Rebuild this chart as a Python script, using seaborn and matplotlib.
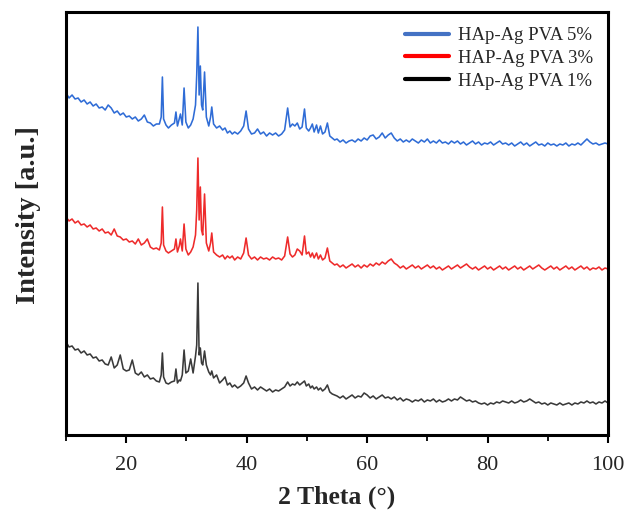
import numpy as np
import pandas as pd
import matplotlib
matplotlib.use("Agg")
import matplotlib.pyplot as plt
import seaborn as sns
from matplotlib.ticker import MultipleLocator


# ----------------------------
# Data (2 theta in degrees, intensity in a.u.)
# ----------------------------

theta_low = np.arange(10.0, 25.5, 0.5)

theta_mid = [
    25.5, 25.8, 26.0, 26.2, 26.6, 27.0, 27.5, 28.0, 28.25, 28.5,
    28.8, 29.0, 29.3, 29.6, 29.9, 30.3, 30.7, 31.1, 31.5, 31.7,
    31.9, 32.1, 32.3, 32.5, 32.7, 33.0, 33.3, 33.7, 34.0, 34.2,
    34.5, 35.0, 35.5, 36.0, 36.4, 36.8, 37.2, 37.6, 38.0, 38.5,
    39.0, 39.5, 39.9, 40.3, 40.8, 41.3, 41.8, 42.3, 42.8, 43.3,
    43.8, 44.3, 44.8, 45.3, 45.8, 46.3, 46.8, 47.2, 47.6, 48.0,
    48.4, 48.8, 49.2, 49.6, 49.9, 50.3, 50.6, 50.9, 51.2, 51.6,
    51.9, 52.25, 52.6, 53.0, 53.4, 53.8, 54.2, 54.6,
]

theta_high = np.arange(55.0, 100.5, 0.5)

# HAp-Ag PVA 5%
pva5_low = [
    342, 337, 340, 336, 337, 333, 335, 331, 333, 329,
    331, 327, 328, 325, 330, 327, 322, 324, 320, 322,
    318, 319, 316, 318, 314, 316, 320, 313, 312, 309,
    311,
]
pva5_mid = [
    311, 318, 358, 316, 310, 307, 310, 312, 323, 309,
    316, 321, 310, 347, 313, 307, 310, 316, 330, 360,
    408, 340, 369, 330, 325, 363, 318, 309, 318, 328,
    311, 307, 309, 305, 307, 302, 304, 301, 303, 301,
    304, 309, 324, 306, 301, 302, 306, 301, 303, 299,
    302, 300, 302, 299, 301, 305, 327, 308, 311, 309,
    312, 306, 308, 326, 307, 304, 307, 311, 303, 310,
    302, 309, 301, 303, 312, 299, 297, 295,
]
pva5_high = [
    296, 293, 295, 292, 294, 295, 293, 296, 294, 297,
    295, 299, 300, 296, 298, 302, 297, 300, 302, 297,
    294, 296, 293, 295, 293, 296, 294, 292, 295, 293,
    296, 292, 294, 292, 295, 292, 293, 291, 294, 292,
    294, 291, 293, 290, 292, 294, 291, 293, 290, 292,
    291, 293, 290, 292, 294, 291, 292, 290, 292, 289,
    291, 293, 290, 292, 289, 291, 293, 290, 291, 289,
    292, 290, 291, 289, 291, 290, 292, 289, 291, 290,
    292, 290, 293, 296, 293, 291, 292, 290, 291, 292,
    291,
]

# HAP-Ag PVA 3%
pva3_low = [
    218, 214, 216, 212, 214, 210, 211, 208, 210, 206,
    207, 204, 206, 202, 203, 200, 206, 199, 198, 195,
    196, 193, 194, 191, 196, 190, 192, 196, 188, 186,
    187,
]
pva3_mid = [
    185, 192, 228, 190, 184, 182, 184, 186, 196, 183,
    189, 196, 184, 211, 186, 180, 183, 188, 200, 225,
    277, 215, 248, 205, 200, 241, 192, 184, 192, 202,
    183, 180, 178, 180, 176, 179, 177, 179, 175, 178,
    176, 182, 197, 180, 176, 178, 175, 178, 176, 177,
    175, 178, 176, 177, 175, 179, 198, 181, 178, 180,
    186, 184, 180, 199, 181, 183, 178, 182, 177, 182,
    176, 180, 175, 177, 187, 174, 172, 170,
]
pva3_high = [
    171, 168, 170, 167, 169, 171, 168, 170, 167, 170,
    168, 171, 169, 172, 170, 173, 171, 174, 176, 172,
    170, 167, 169, 166, 168, 170, 167, 169, 166, 168,
    170, 167, 169, 166, 168, 165, 167, 169, 166, 168,
    170, 167, 169, 171, 168, 166, 168, 165, 167, 169,
    166, 168, 165, 167, 169, 166, 168, 165, 167, 169,
    166, 168, 165, 167, 169, 166, 168, 170, 167, 165,
    167, 169, 166, 168, 165, 167, 169, 166, 168, 165,
    167, 169, 166, 168, 165, 167, 166, 168, 165, 167,
    166,
]

# HAp-Ag PVA 1%
pva1_low = [
    93, 88, 89, 85, 86, 82, 84, 80, 81, 77,
    78, 74, 75, 71, 70, 78, 67, 70, 80, 66,
    64, 65, 75, 62, 60, 63, 58, 60, 56, 57,
    54,
]
pva1_mid = [
    53, 60, 82, 58, 52, 51, 53, 54, 66, 52,
    55, 54, 60, 85, 62, 64, 76, 62, 79, 90,
    152, 80, 87, 72, 70, 84, 70, 63, 60, 64,
    57, 60, 52, 55, 58, 50, 52, 48, 50, 47,
    49, 52, 59, 52, 46, 48, 45, 48, 46, 44,
    46, 43, 45, 44, 46, 48, 53, 49, 51, 50,
    53, 50, 52, 54, 49, 51, 47, 49, 46, 48,
    45, 47, 44, 46, 50, 43, 41, 40,
]
pva1_high = [
    39, 37, 39, 36, 38, 40, 37, 39, 38, 42,
    40, 37, 39, 36, 38, 40, 37, 38, 36, 38,
    35, 37, 34, 36, 35, 33, 35, 34, 36, 33,
    35, 34, 36, 33, 35, 33, 34, 36, 34, 36,
    35, 38, 36, 34, 35, 33, 34, 32, 31, 32,
    30, 32, 31, 33, 32, 34, 33, 32, 34, 32,
    33, 35, 33, 34, 36, 34, 32, 33, 31, 32,
    30, 32, 31, 30, 32, 30, 31, 32, 30, 32,
    31, 33, 32, 34, 32, 33, 31, 33, 32, 34,
    32,
]

labels = ["HAp-Ag PVA 5%", "HAP-Ag PVA 3%", "HAp-Ag PVA 1%"]
colors = ["#2f6cd6", "#ee2b2b", "#3a3a3a"]


# ----------------------------
# Long-form table
# ----------------------------

two_theta = np.concatenate([theta_low, theta_mid, theta_high])

series = {
    labels[0]: pva5_low + pva5_mid + pva5_high,
    labels[1]: pva3_low + pva3_mid + pva3_high,
    labels[2]: pva1_low + pva1_mid + pva1_high,
}

frames = []
for name, vals in series.items():
    assert len(vals) == len(two_theta), (name, len(vals), len(two_theta))
    frames.append(pd.DataFrame({
        "two_theta": two_theta,
        "intensity": vals,
        "sample": name,
    }))

df = pd.concat(frames, ignore_index=True)


# ----------------------------
# Plot
# ----------------------------

sns.set_theme(style="white")
plt.rcParams["font.family"] = ["Liberation Serif", "DejaVu Serif"]

fig = plt.figure(figsize=(6.35, 5.22), dpi=100)
ax = fig.add_axes([0.104, 0.1667, 0.8535, 0.8103])

sns.lineplot(
    data=df,
    x="two_theta",
    y="intensity",
    hue="sample",
    hue_order=labels,
    palette=colors,
    estimator=None,
    sort=False,
    linewidth=1.15,
    ax=ax,
)

ax.set_xlim(10, 100)
ax.set_ylim(0, 423)

ax.xaxis.set_major_locator(MultipleLocator(20))
ax.xaxis.set_minor_locator(MultipleLocator(10))
ax.set_yticks([])

ax.tick_params(axis="x", which="major", direction="out", length=6,
               width=1.5, color="black", labelsize=16, pad=9,
               bottom=True)
ax.tick_params(axis="x", which="minor", direction="out", length=4,
               width=1.3, color="black", bottom=True)

for spine in ax.spines.values():
    spine.set_linewidth(2.2)
    spine.set_color("black")

ax.set_xlabel("2 Theta (°)", fontsize=18.5, fontweight="bold", labelpad=8)
ax.set_ylabel("Intensity [a.u.]", fontsize=20.5, fontweight="bold")
ax.yaxis.set_label_coords(-0.046, 0.52)

leg = ax.legend(
    loc="upper right",
    frameon=False,
    fontsize=13.5,
    handlelength=2.3,
    handletextpad=0.5,
    labelspacing=0.3,
    borderaxespad=0.4,
)
for line, c in zip(leg.get_lines(), ["#4472c4", "#ff0000", "#000000"]):
    line.set_linewidth(3)
    line.set_color(c)

fig.savefig("out.png", dpi=100)
plt.close(fig)
